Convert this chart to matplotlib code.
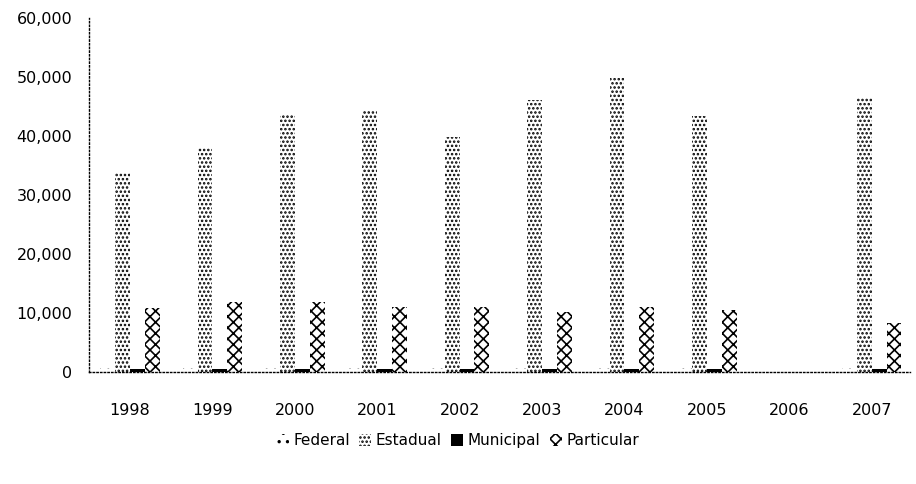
import numpy as np
import matplotlib
matplotlib.use("Agg")
import matplotlib.pyplot as plt
from matplotlib.ticker import FuncFormatter

# data
years = ["1998", "1999", "2000", "2001", "2002", "2003", "2004", "2005", "2006", "2007"]
federal = [700, 700, 700, 700, 700, 700, 700, 700, 0, 700]
estadual = [33700, 38000, 43600, 44400, 39800, 46100, 49800, 43400, 0, 46500]
municipal = [600, 600, 600, 600, 600, 600, 600, 600, 0, 600]
particular = [10800, 11900, 11900, 11000, 11000, 10200, 11000, 10500, 0, 8300]

series = ["Federal", "Estadual", "Municipal", "Particular"]

plt.rcParams["font.family"] = ["DejaVu Sans"]
plt.rcParams["hatch.linewidth"] = 1.2

fig = plt.figure(figsize=(9.16, 4.84), dpi=100)
ax = fig.add_axes([0.097, 0.231, 0.896, 0.732])

x = np.arange(len(years))
w = 0.18

# styles per series: (facecolor, hatch)
styles = [
    ("white", ".."),
    ("white", "...."),
    ("black", None),
    ("white", "xxx"),
]
values = [federal, estadual, municipal, particular]

for i, (name, vals, st) in enumerate(zip(series, values, styles)):
    fc, hatch = st
    ax.bar(x + (i - 1.5) * w, vals, width=w, color=fc, edgecolor="black",
           linewidth=0, hatch=hatch, label=name)

ax.set_xlim(-0.5, 9.46)
ax.set_ylim(0, 60000)
ax.set_yticks(np.arange(0, 60001, 10000))
ax.yaxis.set_major_formatter(FuncFormatter(lambda v, p: f"{int(v):,}"))
ax.set_xticks(x)
ax.set_xticklabels(years)

ax.tick_params(axis="y", length=0, pad=12, labelsize=11.5)
ax.tick_params(axis="x", length=0, pad=22, labelsize=11.5)

for s in ["top", "right"]:
    ax.spines[s].set_visible(False)
for s in ["left", "bottom"]:
    ax.spines[s].set_linestyle(":")
    ax.spines[s].set_linewidth(1.0)
    ax.spines[s].set_color("black")

fig.legend(loc="center", bbox_to_anchor=(0.5, 0.089), ncol=4, frameon=False,
           fontsize=11, handlelength=0.8, handleheight=0.8, handletextpad=0.3,
           columnspacing=0.6)

fig.savefig("out.png", dpi=100)
